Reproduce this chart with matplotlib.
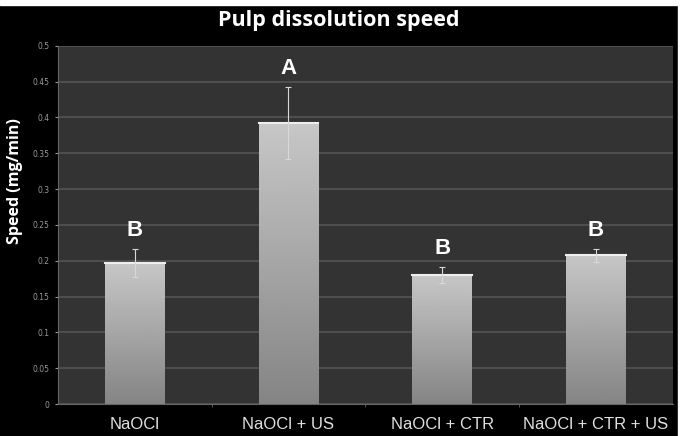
import numpy as np
import matplotlib.pyplot as plt
from matplotlib.patches import Rectangle

categories = ["NaOCl", "NaOCl + US", "NaOCl + CTR", "NaOCl + CTR + US"]
speed = [0.197, 0.392, 0.180, 0.208]
err = [0.020, 0.050, 0.011, 0.009]
letters = ["B", "A", "B", "B"]
yticks = [0, 0.05, 0.1, 0.15, 0.2, 0.25, 0.3, 0.35, 0.4, 0.45, 0.5]
ytick_labels = ["0", "0.05", "0.1", "0.15", "0.2", "0.25", "0.3", "0.35", "0.4", "0.45", "0.5"]

fig = plt.figure(figsize=(6.81, 4.36), dpi=100, facecolor="black")
# thin white margins at the top and right of the screenshot
fig.patches.append(Rectangle((0, 1 - 5 / 436), 1, 5 / 436, transform=fig.transFigure,
                             color="white", zorder=-1))
fig.patches.append(Rectangle((1 - 3 / 681, 0), 3 / 681, 1, transform=fig.transFigure,
                             color="white", zorder=-1))

ax = fig.add_axes([0.085, 0.073, 0.903, 0.822])
ax.set_facecolor("#333333")

x = np.arange(len(categories))
w = 0.39
grad = np.linspace(0.78, 0.52, 100).reshape(-1, 1)
for xi, v in zip(x, speed):
    ax.imshow(grad[::-1], extent=[xi - w / 2, xi + w / 2, 0, v], aspect="auto",
              cmap="gray", vmin=0, vmax=1, origin="lower", zorder=2)
    ax.plot([xi - w / 2, xi + w / 2], [v, v], color="#eeeeee", lw=1.5, zorder=3)

ax.errorbar(x, speed, yerr=err, fmt="none", ecolor="#d8d8d8", elinewidth=0.8,
            capsize=2, capthick=0.8, zorder=4)

for xi, v, e, lab in zip(x, speed, err, letters):
    ax.text(xi, v + e + 0.018, lab, color="white", fontsize=16, fontweight="bold",
            family="Liberation Sans", ha="center", va="baseline", zorder=5)

ax.set_xlim(-0.5, 3.5)
ax.set_ylim(0, 0.5)
ax.set_yticks(yticks)
ax.set_yticklabels(ytick_labels)
ax.set_xticks(x)
ax.set_xticklabels(categories)
ax.set_xticks(x[:-1] + 0.5, minor=True)
ax.yaxis.grid(True, color="#575757", lw=1.1, zorder=0)
ax.set_axisbelow(True)

for s in ["top", "right"]:
    ax.spines[s].set_visible(False)
ax.spines["left"].set_color("#666666")
ax.spines["bottom"].set_color("#666666")

ax.tick_params(axis="y", colors="#999999", labelsize=5.5, length=2, pad=4)
ax.tick_params(axis="x", which="major", colors="#e0e0e0", labelsize=12, length=0, pad=9)
ax.tick_params(axis="x", which="minor", color="#666666", length=2)
for t in ax.get_xticklabels():
    t.set_family("Liberation Sans")

ax.set_ylabel("Speed (mg/min)", color="white", fontsize=11.5, fontweight="bold",
              family="Open Sans")
ax.yaxis.label.set_va("center")
ax.yaxis.set_label_coords(-0.07, 0.623)
fig.suptitle("Pulp dissolution speed", color="white", fontsize=15.5, fontweight="bold",
             family="Open Sans", x=0.498, y=0.978)

fig.savefig("out.png", dpi=100, facecolor="black")
